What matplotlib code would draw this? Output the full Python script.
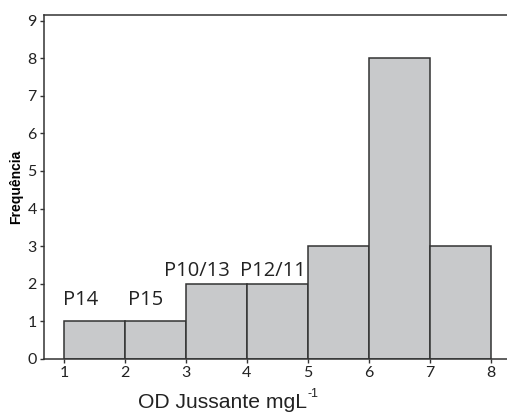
import matplotlib
matplotlib.use("Agg")
import matplotlib.pyplot as plt

bin_edges = [1, 2, 3, 4, 5, 6, 7, 8]
counts = [1, 1, 2, 2, 3, 8, 3]
labels = ["P14", "P15", "P10/13", "P12/11"]
label_x = [1.28, 2.34, 3.18, 4.43]
label_y = [1.44, 1.44, 2.21, 2.21]
yticks = list(range(0, 10))
xticks = list(range(1, 9))

fig = plt.figure(figsize=(5.07, 4.15), dpi=100)
ax = fig.add_axes([0.0862, 0.135, 0.93, 0.829])

lefts = bin_edges[:-1]
widths = [b - a for a, b in zip(bin_edges[:-1], bin_edges[1:])]
ax.bar(lefts, counts, width=widths, align="edge", color="#c8c9cb",
       edgecolor="#333333", linewidth=1.1)

for t, x, y in zip(labels, label_x, label_y):
    ax.text(x, y, t, ha="center", va="baseline", fontsize=14.5,
            family="Open Sans", color="#222222")

ax.set_xlim(0.67, 8.40)
ax.set_ylim(0, 9.15)
ax.set_xticks(xticks)
ax.set_yticks(yticks)
for lbl in ax.get_xticklabels() + ax.get_yticklabels():
    lbl.set_family("Lato")
    lbl.set_fontsize(11.5)
    lbl.set_color("#222222")
ax.tick_params(axis="both", length=3, width=1, color="#333333", pad=2)
ax.spines["right"].set_visible(False)
for s in ["left", "top", "bottom"]:
    ax.spines[s].set_color("#333333")
    ax.spines[s].set_linewidth(1.1)

ax.set_ylabel("Frequência", fontsize=10, fontweight="bold",
              family="Liberation Sans", labelpad=3)

main = fig.text(138 / 507, 1 - 408 / 415, "OD Jussante mgL", ha="left",
                va="baseline", fontsize=15.2, family="Liberation Sans",
                color="#222222")
renderer = fig.canvas.get_renderer()
bb = main.get_window_extent(renderer)
fig.text((bb.x1 + 1) / fig.bbox.width, 1 - 397 / 415, "-1", ha="left",
         va="baseline", fontsize=9, family="Liberation Sans", color="#222222")

fig.savefig("out.png", dpi=100)
